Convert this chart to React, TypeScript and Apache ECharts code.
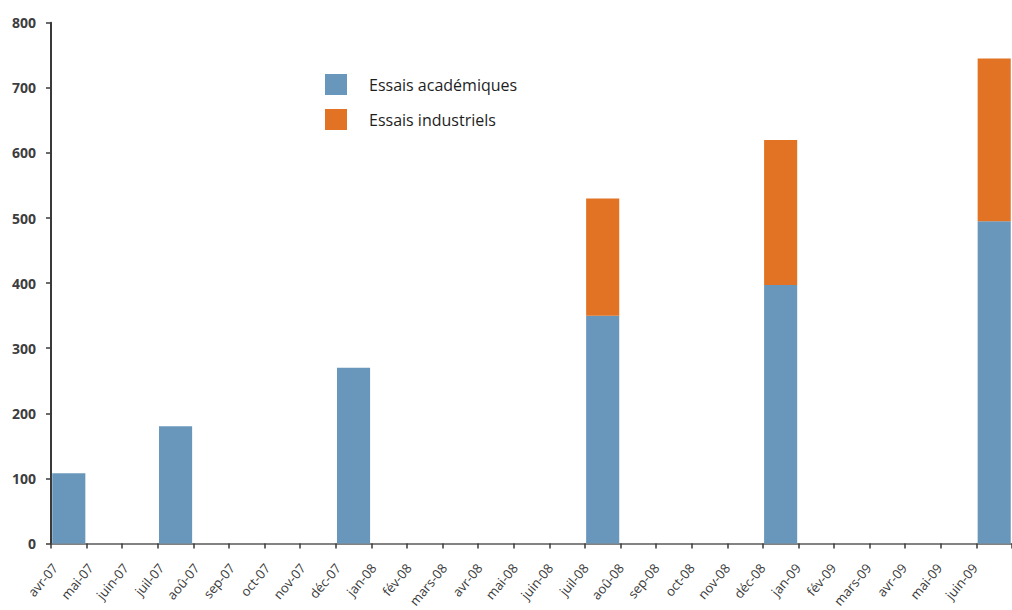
import React, { useEffect, useRef } from "react";
import * as echarts from "echarts";

// Months from April 2007 to June 2009
const months = [
  "avr-07", "mai-07", "juin-07", "juil-07", "aoû-07", "sep-07", "oct-07", "nov-07", "déc-07",
  "jan-08", "fév-08", "mars-08", "avr-08", "mai-08", "juin-08", "juil-08", "aoû-08", "sep-08",
  "oct-08", "nov-08", "déc-08", "jan-09", "fév-09", "mars-09", "avr-09", "mai-09", "juin-09",
];

// Cumulative number of trials per reporting month (null = no report)
const academic = [
  108, null, null, 180, null, null, null, null, 270,
  null, null, null, null, null, null, 350, null, null,
  null, null, 397, null, null, null, null, null, 495,
];
const industrial = [
  null, null, null, null, null, null, null, null, null,
  null, null, null, null, null, null, 180, null, null,
  null, null, 223, null, null, null, null, null, 250,
];

const yTicks = [0, 100, 200, 300, 400, 500, 600, 700, 800];

const BLUE = "#6897bb";
const ORANGE = "#e27224";
const FONT = "'Open Sans', 'Noto Sans', sans-serif";

export default function App() {
  const ref = useRef<HTMLDivElement>(null);

  useEffect(() => {
    if (!ref.current) return;
    const chart = echarts.init(ref.current, null, { renderer: "svg" });
    chart.setOption({
      animation: false,
      backgroundColor: "#ffffff",
      grid: [
        { left: 51, right: 0, top: 22.7, bottom: 66.5, containLabel: false },
        // label strip for the month names, nudged a little to the right
        { left: 55, right: -4, top: 22.7, bottom: 66.5, containLabel: false },
      ],
      legend: {
        orient: "vertical",
        left: 320,
        top: 69,
        itemWidth: 22,
        itemHeight: 21,
        itemGap: 14,
        icon: "rect",
        textStyle: {
          fontFamily: FONT,
          fontSize: 16,
          color: "#1e1e1e",
          padding: [0, 0, 0, 17],
        },
        data: ["Essais académiques", "Essais industriels"],
      },
      xAxis: [
        {
          // band axis carrying the bars; ticks on the band boundaries
          type: "category",
          data: months,
          gridIndex: 0,
          position: "bottom",
          boundaryGap: true,
          axisLine: { onZero: false, lineStyle: { color: "#5a5a5a", width: 1.5 } },
          axisTick: {
            show: true,
            interval: 0,
            alignWithLabel: false,
            length: 5,
            lineStyle: { color: "#3a3a3a", width: 1.5 },
          },
          axisLabel: { show: false },
          splitLine: { show: false },
        },
        {
          // month names placed on the band boundaries
          type: "value",
          gridIndex: 1,
          position: "bottom",
          min: 0,
          max: months.length,
          interval: 1,
          axisLine: { show: false, onZero: false },
          axisTick: { show: false },
          axisLabel: {
            rotate: 50,
            margin: 22,
            fontFamily: FONT,
            fontSize: 13,
            color: "#3a3a3a",
            showMaxLabel: true,
            formatter: (v: number) => months[v] ?? "",
          },
          splitLine: { show: false },
        },
      ],
      yAxis: [
        {
          type: "value",
          gridIndex: 0,
          min: 0,
          max: 800,
          interval: 100,
          axisLine: { show: true, onZero: false, lineStyle: { color: "#3a3a3a", width: 2 } },
          axisTick: { show: true, length: 5, lineStyle: { color: "#3a3a3a", width: 1.5 } },
          axisLabel: {
            margin: 15,
            fontFamily: FONT,
            fontSize: 14,
            fontWeight: "bold",
            color: "#3d3d3d",
            formatter: (v: number) => (yTicks.includes(v) ? String(v) : ""),
          },
          splitLine: { show: false },
        },
        {
          type: "value",
          gridIndex: 1,
          min: 0,
          max: 800,
          show: false,
        },
      ],
      series: [
        {
          name: "Essais académiques",
          type: "bar",
          stack: "total",
          xAxisIndex: 0,
          yAxisIndex: 0,
          barCategoryGap: "7%",
          itemStyle: { color: BLUE },
          data: academic,
        },
        {
          name: "Essais industriels",
          type: "bar",
          stack: "total",
          xAxisIndex: 0,
          yAxisIndex: 0,
          barCategoryGap: "7%",
          itemStyle: { color: ORANGE },
          data: industrial,
        },
      ],
    });
    return () => chart.dispose();
  }, []);

  return (
    <div
      ref={ref}
      style={{ position: "absolute", left: 0, top: 0, width: 1012, height: 610 }}
    />
  );
}
